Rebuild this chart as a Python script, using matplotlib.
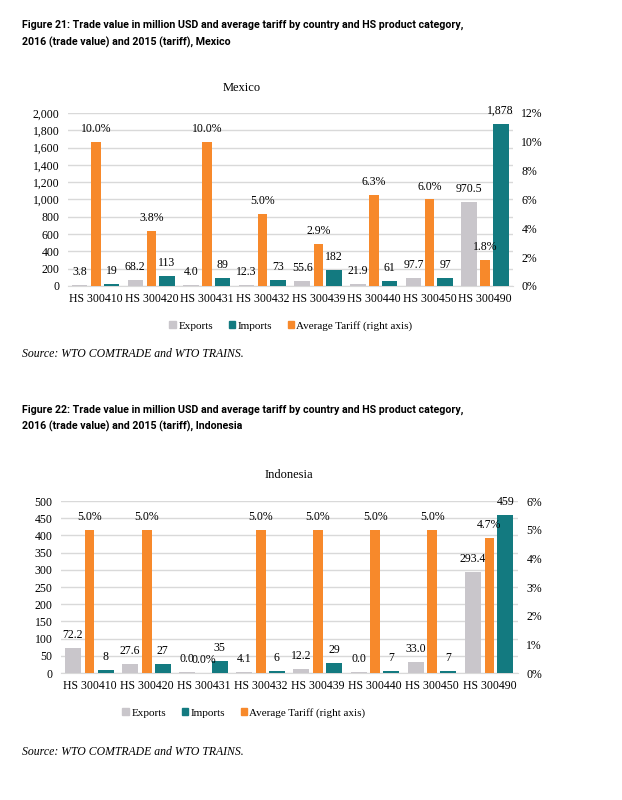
import numpy as np
import matplotlib
matplotlib.use("Agg")
from matplotlib import pyplot as plt
from matplotlib.ticker import FuncFormatter
from matplotlib.patches import Patch

categories = ["HS 300410", "HS 300420", "HS 300431", "HS 300432",
              "HS 300439", "HS 300440", "HS 300450", "HS 300490"]

# Mexico
mx_exports = [3.8, 68.2, 4.0, 12.3, 55.6, 21.9, 97.7, 970.5]
mx_imports = [19, 113, 89, 73, 182, 61, 97, 1878]
mx_tariff = [10.0, 3.8, 10.0, 5.0, 2.9, 6.3, 6.0, 1.8]

# Indonesia
id_exports = [72.2, 27.6, 0.0, 4.1, 12.2, 0.0, 33.0, 293.4]
id_imports = [8, 27, 35, 6, 29, 7, 7, 459]
id_tariff = [5.0, 5.0, 0.0, 5.0, 5.0, 5.0, 5.0, 4.7]

GRAY = "#C9C6CB"
TEAL = "#137A80"
ORANGE = "#F7892B"
SERIF = "Liberation Serif"
SANS = "Roboto"

W, H = 622, 800
fig = plt.figure(figsize=(6.22, 8.0), dpi=100)


def px(x, y):
    return x / W, 1 - y / H


def draw_chart(rect, name, title_x, title_y, exports, imports, tariff,
               ymax, ystep, tmax, tstep, legend_y, legend_x):
    ax = fig.add_axes(rect)
    ax2 = ax.twinx()
    x = np.arange(len(categories))
    # small values still show a sliver like in Excel
    exp_h = [max(v, ymax * 0.006) if v > 0 else ymax * 0.004 for v in exports]
    ax.bar(x - 0.29, exp_h, 0.28, color=GRAY, zorder=3)
    ax.bar(x + 0.28, imports, 0.28, color=TEAL, zorder=3)
    ax2.bar(x, tariff, 0.17, color=ORANGE, zorder=3)

    for i in range(len(x)):
        ax.annotate("%.1f" % exports[i], (x[i] - 0.29, exp_h[i]), xytext=(0, 5),
                    textcoords="offset points", ha="center", va="bottom",
                    fontsize=8.5, family=SERIF)
        ax.annotate("{:,.0f}".format(imports[i]), (x[i] + 0.28, imports[i]), xytext=(0, 5),
                    textcoords="offset points", ha="center", va="bottom",
                    fontsize=8.5, family=SERIF)
        ax2.annotate("%.1f%%" % tariff[i], (x[i], tariff[i]), xytext=(0, 5),
                     textcoords="offset points", ha="center", va="bottom",
                     fontsize=8.5, family=SERIF)

    ax.set_xlim(-0.5, len(x) - 0.5)
    ax.set_ylim(0, ymax)
    ax2.set_ylim(0, tmax)
    ax.set_yticks(np.arange(0, ymax + ystep / 2, ystep))
    ax2.set_yticks(np.arange(0, tmax + tstep / 2, tstep))
    ax.yaxis.set_major_formatter(FuncFormatter(lambda v, p: "{:,.0f}".format(v)))
    ax2.yaxis.set_major_formatter(FuncFormatter(lambda v, p: "%d%%" % v))
    ax.set_xticks(x)
    ax.set_xticklabels(categories)
    ax.grid(axis="y", color="#D9D9D9", lw=1, zorder=0)
    for a in (ax, ax2):
        for s in a.spines.values():
            s.set_visible(False)
        a.tick_params(length=0, labelsize=8.5, pad=4)
        for lab in a.get_xticklabels() + a.get_yticklabels():
            lab.set_family(SERIF)
    ax.spines["bottom"].set_visible(True)
    ax.spines["bottom"].set_color("#D9D9D9")
    ax.tick_params(axis="y", pad=6)
    ax2.tick_params(axis="y", pad=6)
    ax.tick_params(axis="x", pad=5)

    fig.text(*px(title_x, title_y), name, ha="center", va="center",
             fontsize=9, family=SERIF)

    handles = [Patch(color=GRAY, label="Exports"),
               Patch(color=TEAL, label="Imports"),
               Patch(color=ORANGE, label="Average Tariff (right axis)")]
    fig.legend(handles=handles, loc="center", bbox_to_anchor=px(legend_x, legend_y),
               ncol=3, frameon=False, handlelength=0.6, handleheight=0.6,
               handletextpad=0.2, columnspacing=1.4,
               prop={"family": SERIF, "size": 8})


title_font = dict(fontsize=7.7, fontweight="bold", family=SANS, va="center", ha="left")
fig.text(*px(22, 25), "Figure 21: Trade value in million USD and average tariff by country and HS product category,", **title_font)
fig.text(*px(22, 42), "2016 (trade value) and 2015 (tariff), Mexico", **title_font)
fig.text(*px(22, 410), "Figure 22: Trade value in million USD and average tariff by country and HS product category,", **title_font)
fig.text(*px(22, 426), "2016 (trade value) and 2015 (tariff), Indonesia", **title_font)

src_font = dict(fontsize=8.5, style="italic", family=SERIF, va="center", ha="left")
fig.text(*px(22, 354), "Source: WTO COMTRADE and WTO TRAINS.", **src_font)
fig.text(*px(22, 752), "Source: WTO COMTRADE and WTO TRAINS.", **src_font)

draw_chart([68 / W, 1 - 286 / H, 445 / W, 173 / H], "Mexico", 242, 88,
           mx_exports, mx_imports, mx_tariff, 2000, 200, 12, 2, 326, 291)
draw_chart([61 / W, 1 - 673 / H, 457 / W, 172 / H], "Indonesia", 289, 475,
           id_exports, id_imports, id_tariff, 500, 50, 6, 1, 713, 244)

fig.savefig("out.png", dpi=100)
